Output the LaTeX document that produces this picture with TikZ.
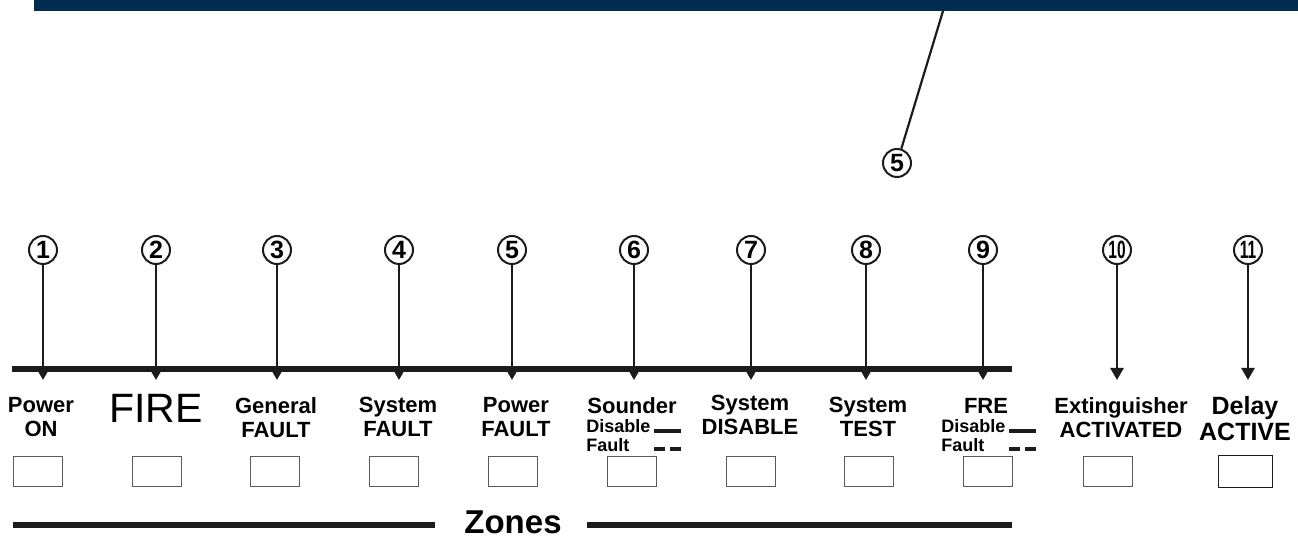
\documentclass[tikz,border=0pt]{standalone}
\usepackage{fontspec}
\setmainfont{Liberation Sans}
\usetikzlibrary{arrows.meta,positioning,calc}
\definecolor{panelnavy}{RGB}{0,44,82}
\definecolor{ink}{RGB}{28,28,28}
\definecolor{lampedge}{RGB}{90,90,90}
\newcommand{\fs}[1]{\fontsize{#1}{#1}\selectfont}
\newcommand{\twodig}[1]{\scalebox{0.62}[1]{#1}}
\tikzset{
  num/.style={circle, draw=ink, line width=1pt, inner sep=0pt, minimum size=14pt, font=\fs{12.5}\bfseries},
  lead/.style={ink, line width=1.1pt},
  ptr/.style={ink, line width=1.3pt, -{Triangle[length=6pt, width=6.5pt]}},
  bar/.style={ink, line width=2.6pt},
  lbl/.style={align=center, inner sep=0pt, anchor=north, font=\fontsize{11}{12}\selectfont\bfseries},
  sublbl/.style={inner sep=0pt, anchor=north west, font=\fs{9}\bfseries},
  dashmark/.style={ink, line width=2pt},
  lamp/.style={draw=lampedge, line width=0.5pt, minimum width=24.5pt, minimum height=15pt, inner sep=0pt},
}

\begin{document}
\begin{tikzpicture}[x=0.5pt, y=-0.5pt]
  \useasboundingbox (0,0) rectangle (1298,539);
  % panel edge
  \fill[panelnavy] (34,0) rectangle (1298,11);
  \coordinate (edge) at (943,11);
  \node[num] (callout) at (897,163) {5};
  \draw[lead] (edge) -- (callout);

  % numbered pointers
  \coordinate (tip) at (0,380);
  \foreach \i/\x/\t in {1/43/1, 2/156/2, 3/277/3, 4/399/4, 5/512/5, 6/634/6,
                        7/751/7, 8/866/8, 9/983/9, 10/1117/\twodig{10}, 11/1248/\twodig{11}} {
    \node[num] (n\i) at (\x,250) {\t};
    \draw[ptr] (n\i) -- (n\i |- tip);
  }
  \coordinate (barL) at (12,369);
  \coordinate (barR) at (1012,369);
  \draw[bar] (barL) -- (barR);

  % labels
  \node[lbl] (l1) at (41,397) {Power\\ON};
  \node[inner sep=0pt, anchor=north, font=\fs{20.5}] (l2) at (156,394) {FIRE};
  \node[lbl] (l3) at (276,397) {General\\FAULT};
  \node[lbl] (l4) at (398,397) {System\\FAULT};
  \node[lbl] (l5) at (516,397) {Power\\FAULT};
  \node[lbl] (l6) at (632,397) {Sounder};
  \node[sublbl] (d6) at (586,419) {Disable};
  \node[sublbl] (f6) at (586,438) {Fault};
  \node[lbl] (l7) at (750,395) {System\\DISABLE};
  \node[lbl] (l8) at (868,397) {System\\TEST};
  \node[lbl] (l9) at (986,398) {FRE};
  \node[sublbl] (d9) at (941,419) {Disable};
  \node[sublbl] (f9) at (941,438) {Fault};
  \node[lbl] (l10) at (1121,397) {Extinguisher\\ACTIVATED};
  \node[lbl, font=\fontsize{12.5}{13}\selectfont\bfseries] (l11) at (1245,396) {Delay\\ACTIVE};

  % disable / fault marks
  \foreach \x in {654,1009} {
    \draw[dashmark] (\x,431) -- ++(27,0);
    \draw[dashmark] (\x,449) -- ++(11,0);
    \draw[dashmark] (\x+16,449) -- ++(11,0);
  }

  % indicator windows
  \foreach \i/\x in {1/37.5, 2/156.5, 3/275, 4/394, 5/513, 6/632, 7/750.5, 8/869, 9/988, 10/1107.5} {
    \node[lamp] (b\i) at (\x,472) {};
  }
  \node[lamp, draw=ink, minimum width=27pt, minimum height=16pt] (b11) at (1245,472) {};

  % zones rule
  \node[inner sep=0pt, anchor=base, font=\fs{16.5}\bfseries] (zones) at (513,534) {Zones};
  \coordinate (zl1) at (13,525);  \coordinate (zl2) at (435,525);
  \coordinate (zr1) at (587,525); \coordinate (zr2) at (1012,525);
  \draw[bar] (zl1) -- (zl2);
  \draw[bar] (zr1) -- (zr2);
\end{tikzpicture}
\end{document}
